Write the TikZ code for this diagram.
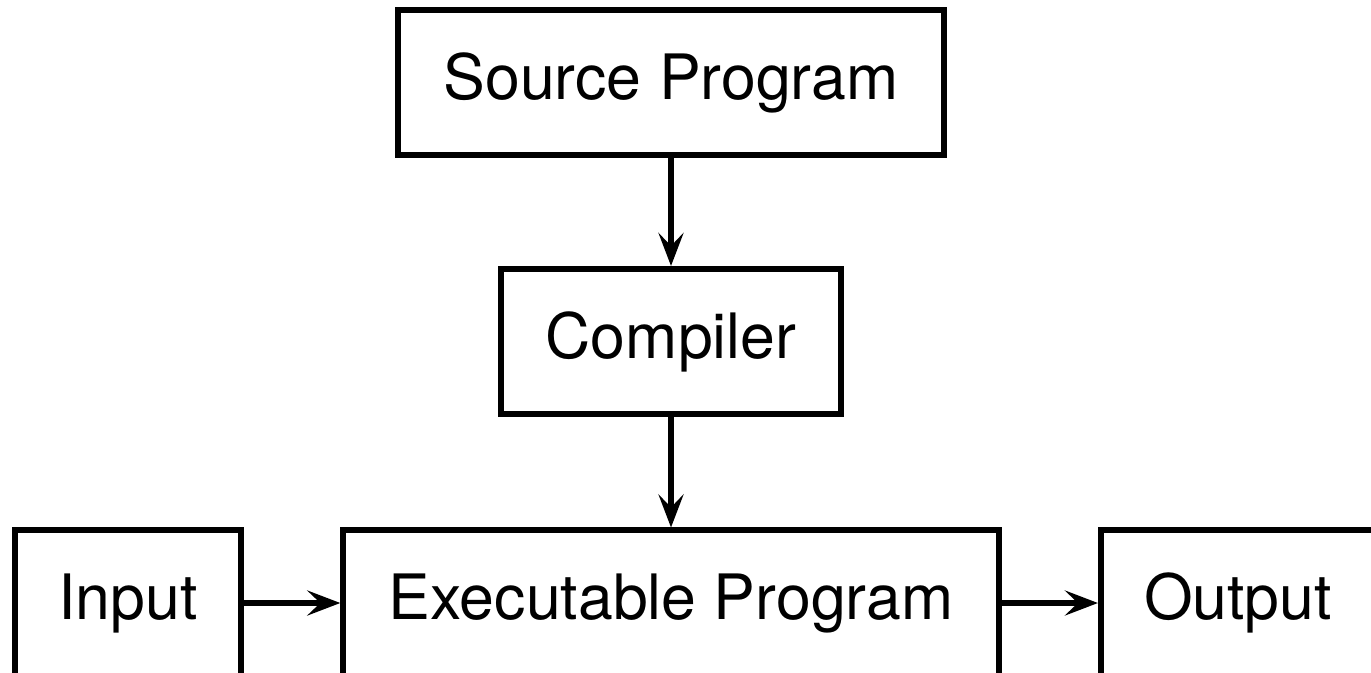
\documentclass[tikz,border=0pt]{standalone}
\usepackage{fontspec}
\setmainfont{TeX Gyre Heros}
\usetikzlibrary{arrows.meta}
\newcommand\boxLineWidth{0.06cm}
\newcommand\boxFontSize{\fontsize{17.8}{21}\selectfont}
\newcommand\flowX{671}
\newcommand\bottomRowY{69}

\begin{document}
\begin{tikzpicture}[x=0.01cm, y=0.01cm,
		progBox/.style={draw, line width=\boxLineWidth, minimum height=1.45cm, inner sep=0pt, font=\boxFontSize},
		flowArrow/.style={line width=\boxLineWidth, -{Stealth[length=0.33cm, width=0.25cm, inset=0.13cm]}}]
		\path[use as bounding box, clip] (0,0) rectangle (1371,672);

		\node[progBox, minimum width=5.45cm] (source) at (\flowX,589.5) {Source Program};
		\node[progBox, minimum width=3.39cm] (compiler) at (\flowX,330.5) {Compiler};

		\node[progBox, minimum width=2.26cm] (input) at (128,\bottomRowY) {Input};
		\node[progBox, minimum width=6.55cm] (executable) at (\flowX,\bottomRowY) {Executable Program};
		\node[progBox, minimum width=2.74cm] (output) at (1238,\bottomRowY) {Output};

		\draw[flowArrow] (source) to (compiler);
		\draw[flowArrow] (compiler) to (executable);
		\draw[flowArrow] (input) to (executable);
		\draw[flowArrow] (executable) to (output);
	\end{tikzpicture}
\end{document}
